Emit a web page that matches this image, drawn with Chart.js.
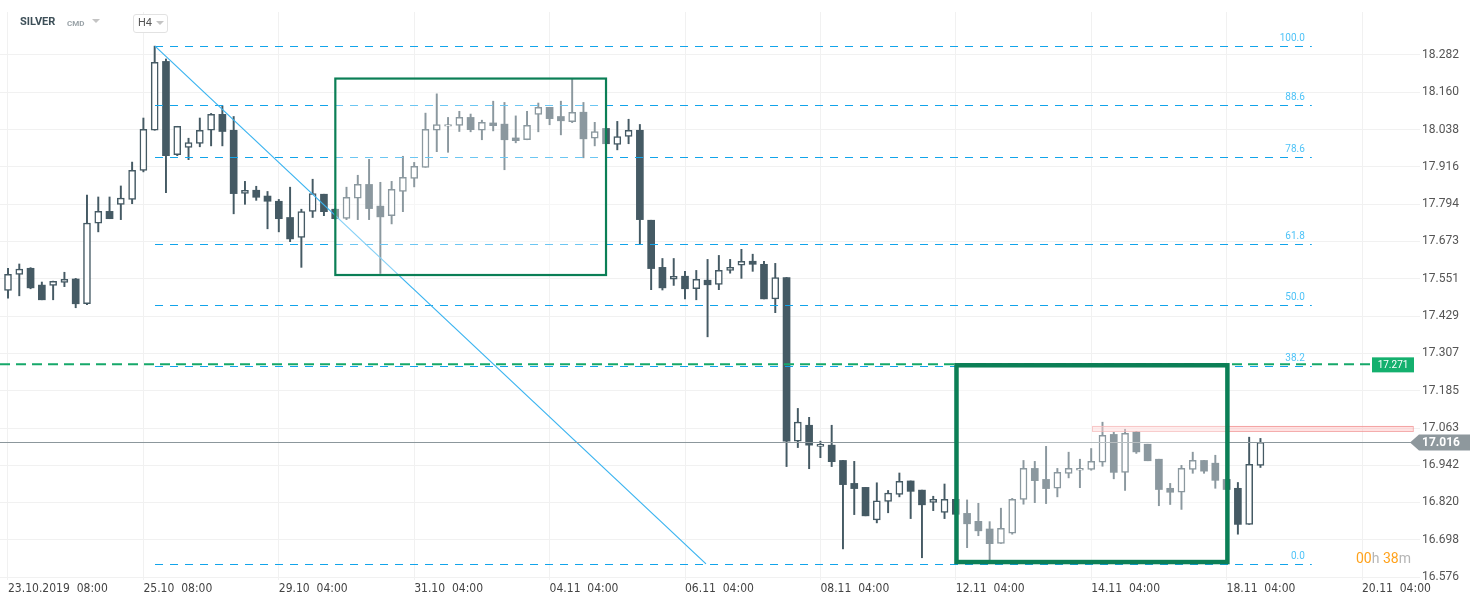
<!DOCTYPE html>
<html>
<head>
<meta charset="utf-8">
<script src="https://cdn.jsdelivr.net/npm/chart.js@4.4.0/dist/chart.umd.min.js"></script>
<style>
html,body{margin:0;padding:0;background:#fff;}
#wrap{position:relative;width:1482px;height:604px;overflow:hidden;}
#c{position:absolute;left:0;top:0;}
.hdr{position:absolute;font-family:Roboto,sans-serif;white-space:nowrap;}
.tri{position:absolute;width:0;height:0;border-left:4px solid transparent;border-right:4px solid transparent;border-top:4px solid #c4c4c4;}
</style>
</head>
<body>
<div id="wrap">
<canvas id="c" width="1482" height="604"></canvas>
<div class="hdr" style="left:20px;top:15px;font-size:11px;font-weight:bold;color:#3d4f58">SILVER</div>
<div class="hdr" style="left:67px;top:19px;font-size:8px;font-weight:bold;color:#9aa3a8">CMD</div>
<div class="tri" style="left:92px;top:19px"></div>
<div class="hdr" style="left:133px;top:14px;width:33px;height:17px;border:1px solid #e2e2e2;border-radius:3px;background:#fff"></div>
<div class="hdr" style="left:138px;top:16px;font-size:11px;color:#555">H4</div>
<div class="tri" style="left:156px;top:21px"></div>
</div>
<script>
// time axis labels (one every 12 H4 candles)
const xTickIdx = [0, 12, 24, 36, 48, 60, 72, 84, 96, 108, 120];
const xTickLabels = ["23.10.2019  08:00", "25.10  08:00", "29.10  04:00", "31.10  04:00", "04.11  04:00",
  "06.11  04:00", "08.11  04:00", "12.11  04:00", "14.11  04:00", "18.11  04:00", "20.11  04:00"];
const yTickLabels = ["16.576", "16.698", "16.820", "16.942", "17.063", "17.185", "17.307", "17.429",
  "17.551", "17.673", "17.794", "17.916", "18.038", "18.160", "18.282"];

// OHLC, H4 candles
const opens = [17.513,17.565,17.585,17.530,17.529,17.539,17.550,17.469,17.732,17.771,17.794,17.810,17.905,18.036,18.261,17.956,17.980,17.993,18.036,18.088,
  18.036,17.830,17.840,17.821,17.804,17.751,17.686,17.771,17.827,17.778,17.748,17.814,17.859,17.788,17.757,17.836,17.879,17.915,18.036,18.049,
  18.052,18.078,18.036,18.060,18.056,18.011,18.005,18.088,18.111,18.081,18.064,18.095,18.010,18.042,17.990,18.016,18.036,17.742,17.588,17.549,
  17.559,17.518,17.546,17.532,17.578,17.595,17.608,17.598,17.485,17.555,17.020,17.072,17.003,17.007,16.957,16.882,16.869,16.763,16.823,16.846,
  16.890,16.860,16.820,16.787,16.830,16.784,16.758,16.733,16.686,16.719,16.830,16.931,16.895,16.866,16.915,16.925,16.928,16.951,17.042,16.918,
  17.050,17.010,16.961,16.866,16.853,16.928,16.957,16.948,16.895,16.866,16.748,16.941];
const highs = [17.585,17.599,17.587,17.540,17.543,17.572,17.552,17.824,17.818,17.818,17.854,17.932,18.076,18.311,18.269,18.049,18.010,18.076,18.091,18.116,
  18.081,17.869,17.853,17.836,17.810,17.850,17.778,17.876,17.827,17.780,17.850,17.889,17.941,17.866,17.869,17.951,17.931,18.092,18.155,18.078,
  18.098,18.089,18.069,18.131,18.127,18.083,18.098,18.125,18.111,18.131,18.204,18.127,18.062,18.045,18.065,18.072,18.055,17.742,17.617,17.617,
  17.575,17.578,17.614,17.627,17.614,17.647,17.631,17.608,17.601,17.555,17.127,17.098,17.020,17.072,16.957,16.954,16.869,16.884,16.859,16.916,
  16.890,16.860,16.840,16.880,16.830,16.828,16.817,16.757,16.801,16.833,16.957,16.954,17.003,16.931,16.984,16.961,16.996,17.082,17.049,17.059,
  17.052,17.010,16.961,16.882,16.941,16.984,16.957,16.974,16.895,16.885,17.033,17.029];
const lows = [17.487,17.495,17.518,17.482,17.482,17.525,17.456,17.466,17.704,17.747,17.744,17.796,17.900,18.036,17.832,17.953,17.940,17.982,17.985,17.985,
  17.763,17.794,17.807,17.714,17.704,17.672,17.588,17.751,17.757,17.745,17.744,17.744,17.744,17.568,17.730,17.770,17.851,17.915,17.966,17.964,
  18.032,18.031,18.005,18.034,17.907,17.995,18.005,18.031,18.054,18.021,18.061,17.946,17.985,17.990,17.972,17.992,17.664,17.515,17.514,17.529,
  17.485,17.482,17.361,17.515,17.569,17.552,17.575,17.485,17.440,16.937,16.999,16.930,16.966,16.937,16.668,16.780,16.776,16.753,16.786,16.838,
  16.767,16.639,16.793,16.767,16.781,16.672,16.711,16.632,16.686,16.716,16.814,16.819,16.816,16.838,16.900,16.868,16.925,16.938,16.897,16.859,
  16.980,16.956,16.809,16.813,16.797,16.915,16.915,16.866,16.862,16.716,16.748,16.934];
const closes = [17.565,17.582,17.521,17.482,17.542,17.549,17.469,17.733,17.771,17.747,17.814,17.905,18.039,18.258,17.953,18.049,17.996,18.036,18.088,18.032,
  17.829,17.840,17.817,17.804,17.747,17.681,17.770,17.829,17.770,17.747,17.817,17.859,17.780,17.753,17.843,17.882,17.918,18.039,18.055,18.055,
  18.078,18.038,18.062,18.051,18.005,18.002,18.052,18.111,18.074,18.067,18.095,18.008,18.032,17.992,18.015,18.036,17.744,17.584,17.521,17.559,
  17.518,17.549,17.531,17.578,17.588,17.608,17.598,17.485,17.555,17.020,17.082,17.007,17.010,16.953,16.878,16.865,16.776,16.825,16.850,16.889,
  16.856,16.812,16.830,16.830,16.781,16.750,16.727,16.685,16.735,16.830,16.931,16.891,16.865,16.918,16.931,16.931,16.954,17.039,16.918,17.046,
  16.985,16.956,16.862,16.853,16.931,16.957,16.922,16.892,16.862,16.748,16.944,17.016];

// drawings on the chart
const fibHigh = 18.311, fibLow = 16.619;
const fibStart = 13.03, fibEnd = 115.55;
const fibLevels = [100.0, 88.6, 78.6, 61.8, 50.0, 38.2, 0.0];
const trendLine = [[13.03, 18.311], [61.86, 16.619]];
const boxes = [[29.01, 53.0, 18.205, 17.563, 2.2], [84.06, 108.07, 17.268, 16.625, 4.5]];
const greenLevel = 17.271;
const lastPrice = 17.016;
const resistance = [96.07, 124.5, 17.070, 17.053];

const DARK = '#455a64';
const idx = opens.map((_, i) => i);

const overlay = {
  id: 'overlay',
  afterDatasetsDraw(chart) {
    const {ctx, chartArea: a, scales: {x, y}} = chart;
    const X = v => x.getPixelForValue(v), Y = v => y.getPixelForValue(v);
    ctx.save();
    ctx.beginPath();
    ctx.rect(a.left, a.top, a.right - a.left, a.bottom - a.top);
    ctx.clip();

    // fibonacci levels
    ctx.lineWidth = 1;
    ctx.setLineDash([8, 7]);
    ctx.strokeStyle = '#12a4ea';
    fibLevels.forEach(l => {
      const yy = Math.round(Y(fibLow + (fibHigh - fibLow) * l / 100)) + 0.5;
      ctx.beginPath();
      ctx.moveTo(X(fibStart), yy);
      ctx.lineTo(X(fibEnd), yy);
      ctx.stroke();
    });
    ctx.setLineDash([]);
    ctx.font = '10px Roboto';
    ctx.fillStyle = '#4fc3f7';
    ctx.textAlign = 'right';
    fibLevels.forEach(l => {
      const yy = Y(fibLow + (fibHigh - fibLow) * l / 100);
      ctx.fillText(l.toFixed(1), X(fibEnd) - 7, yy - 5);
    });

    // trend line
    ctx.strokeStyle = '#3bb4f0';
    ctx.lineWidth = 1.2;
    ctx.beginPath();
    ctx.moveTo(X(trendLine[0][0]), Y(trendLine[0][1]));
    ctx.lineTo(X(trendLine[1][0]), Y(trendLine[1][1]));
    ctx.stroke();

    // resistance zone
    ctx.fillStyle = 'rgba(255,190,190,0.45)';
    ctx.strokeStyle = 'rgba(240,140,140,0.7)';
    ctx.lineWidth = 1;
    const rx = X(resistance[0]), ry = Y(resistance[2]);
    ctx.fillRect(rx, ry, X(resistance[1]) - rx, Y(resistance[3]) - ry);
    ctx.strokeRect(rx + 0.5, Math.round(ry) + 0.5, X(resistance[1]) - rx, Math.round(Y(resistance[3]) - ry));

    // last price line
    ctx.strokeStyle = '#8c979c';
    ctx.beginPath();
    const ly = Math.round(Y(lastPrice)) + 0.5;
    ctx.moveTo(a.left, ly);
    ctx.lineTo(a.right, ly);
    ctx.stroke();

    // green level
    ctx.strokeStyle = '#16a86a';
    ctx.lineWidth = 2;
    ctx.setLineDash([10, 6]);
    ctx.beginPath();
    ctx.moveTo(a.left, Y(greenLevel));
    ctx.lineTo(1372, Y(greenLevel));
    ctx.stroke();
    ctx.setLineDash([]);

    // boxes
    boxes.forEach(b => {
      const bx = X(b[0]), by = Y(b[2]), bw = X(b[1]) - bx, bh = Y(b[3]) - by;
      ctx.fillStyle = 'rgba(255,255,255,0.38)';
      ctx.fillRect(bx, by, bw, bh);
      ctx.strokeStyle = '#0b7f56';
      ctx.lineWidth = b[4];
      ctx.strokeRect(bx, by, bw, bh);
    });
    ctx.restore();

    // tags
    ctx.save();
    const gy = Y(greenLevel);
    ctx.fillStyle = '#14b06e';
    ctx.fillRect(1372, gy - 7, 42, 15);
    ctx.fillStyle = '#fff';
    ctx.font = '10px Roboto';
    ctx.textAlign = 'center';
    ctx.textBaseline = 'middle';
    ctx.fillText(greenLevel.toFixed(3), 1393, gy + 1);

    const py = Y(lastPrice);
    ctx.fillStyle = '#8e989d';
    ctx.beginPath();
    ctx.moveTo(1410, py);
    ctx.lineTo(1419, py - 8);
    ctx.lineTo(1470, py - 8);
    ctx.lineTo(1470, py + 8);
    ctx.lineTo(1419, py + 8);
    ctx.closePath();
    ctx.fill();
    ctx.fillStyle = '#fff';
    ctx.font = 'bold 12px Roboto';
    ctx.textAlign = 'left';
    ctx.fillText(lastPrice.toFixed(3), 1422, py + 1);

    // countdown
    ctx.font = '14px Roboto';
    ctx.textBaseline = 'middle';
    let tx = 1356;
    [['00', '#ffa21c'], ['h ', '#b5b5b5'], ['38', '#ffa21c'], ['m', '#b5b5b5']].forEach(p => {
      ctx.fillStyle = p[1];
      ctx.fillText(p[0], tx, 559);
      tx += ctx.measureText(p[0]).width;
    });
    ctx.restore();
  }
};

new Chart(document.getElementById('c'), {
  type: 'bar',
  data: {
    datasets: [
      {
        label: 'body',
        data: idx.map(i => ({x: i, y: [opens[i], closes[i]]})),
        backgroundColor: ctx => closes[ctx.dataIndex] >= opens[ctx.dataIndex] ? '#ffffff' : DARK,
        borderColor: DARK,
        borderWidth: ctx => closes[ctx.dataIndex] >= opens[ctx.dataIndex] ? 1.5 : 0,
        borderSkipped: false,
        barThickness: 7,
        grouped: false,
        order: 1
      },
      {
        label: 'wick',
        data: idx.map(i => ({x: i, y: [lows[i], highs[i]]})),
        backgroundColor: DARK,
        borderWidth: 0,
        barThickness: 1.3,
        grouped: false,
        order: 2
      }
    ]
  },
  options: {
    responsive: false,
    animation: false,
    events: [],
    layout: {padding: {top: 12, left: 0, right: 0, bottom: 0}},
    plugins: {legend: {display: false}, tooltip: {enabled: false}},
    scales: {
      x: {
        type: 'linear',
        min: -0.709,
        max: 125.14,
        offset: false,
        afterBuildTicks: s => { s.ticks = xTickIdx.map(v => ({value: v})); },
        afterFit: s => { s.height = 24; s.paddingLeft = 0; s.paddingRight = 0; },
        grid: {color: '#f1f1f1', drawTicks: false, offset: false},
        border: {display: false},
        ticks: {
          autoSkip: false,
          maxRotation: 0,
          align: 'start',
          padding: 2,
          color: '#444',
          font: {family: '"Liberation Sans Narrow", "DejaVu Sans Condensed", Roboto', size: 12},
          callback: (v, i) => xTickLabels[i]
        }
      },
      y: {
        type: 'linear',
        position: 'right',
        min: 16.5663,
        max: 18.4225,
        afterBuildTicks: s => { s.ticks = yTickLabels.map(t => ({value: Number(t)})); },
        afterFit: s => { s.width = 62; },
        grid: {color: '#f1f1f1', drawTicks: false},
        border: {display: false},
        ticks: {
          padding: 2,
          color: '#555',
          font: {family: 'Roboto', size: 12},
          callback: (v, i) => yTickLabels[i]
        }
      }
    }
  },
  plugins: [overlay]
});
</script>
</body>
</html>
